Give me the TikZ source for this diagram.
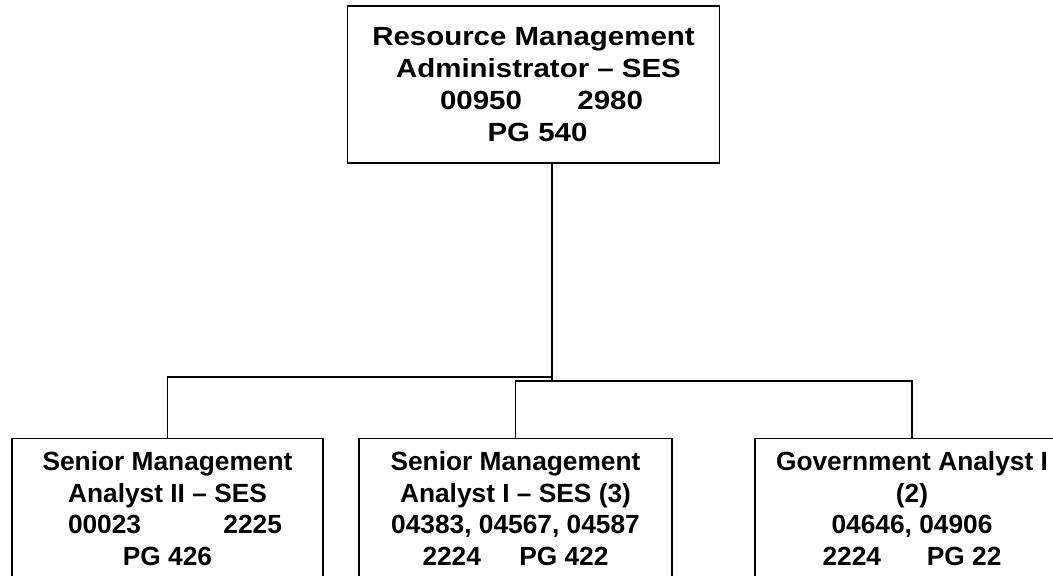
\documentclass[tikz,border=0pt]{standalone}
\usepackage{fontspec}
\setmainfont{Liberation Sans}
\newfontfamily\wideface[FakeStretch=1.12]{Liberation Sans}
\usetikzlibrary{calc}

\tikzset{
  orgbox/.style={draw=black, line width=1.4pt, rectangle, align=center,
    font=\fontsize{26.3}{31.5}\selectfont\bfseries, text=black},
  link/.style={draw=black, line width=1.4pt},
}

\begin{document}
\begin{tikzpicture}[x=1pt, y=-1pt]
  \useasboundingbox (0,0) rectangle (1053,576);
  \fill[white] (0,0) rectangle (1053,576);

  % head of the office
  \node[orgbox, minimum width=372pt, minimum height=157pt, inner sep=0pt,
        font=\wideface\fontsize{26.3}{32}\selectfont\bfseries]
    (head) at (533.5,84.5)
    {Resource Management\\
     \hspace*{10pt}Administrator – SES\\
     \hspace*{16pt}\makebox[203pt]{00950\hfill 2980}\\
     \hspace*{8pt}PG 540};

  % staff positions
  \node[orgbox, anchor=north, minimum width=311pt, inner xsep=0pt, inner ysep=13pt]
    (sma2) at (167.5,438)
    {Senior Management\\
     Analyst II – SES\\
     \hspace*{15pt}\makebox[214pt]{00023\hfill 2225}\\
     PG 426};

  \node[orgbox, anchor=north, minimum width=313pt, inner xsep=0pt, inner ysep=13pt]
    (sma1) at (515.5,438)
    {Senior Management\\
     Analyst I – SES (3)\\
     04383, 04567, 04587\\
     \makebox[186pt]{2224\hfill PG 422}};

  \node[orgbox, anchor=north, minimum width=314pt, inner xsep=0pt, inner ysep=13pt]
    (ga1) at (912,438)
    {Government Analyst I\\
     (2)\\
     04646, 04906\\
     \makebox[179pt]{2224\hfill PG 22}};

  % reporting lines
  \coordinate (trunk) at ([xshift=18.5pt]head.south);
  \coordinate (busL) at (552,377);
  \coordinate (busR) at (552,381);
  \draw[link, line width=2pt] (trunk) -- (busR);
  \draw[link] (busL) -| (sma2.north);
  \draw[link] (busR) -| (sma1.north);
  \draw[link] (busR) -| (ga1.north);
\end{tikzpicture}
\end{document}
